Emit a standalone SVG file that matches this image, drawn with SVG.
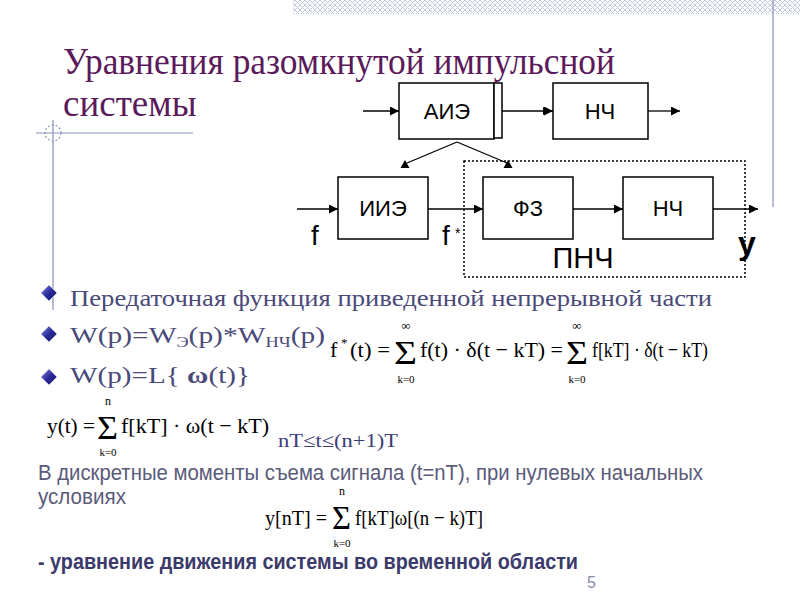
<svg xmlns="http://www.w3.org/2000/svg" width="800" height="600" viewBox="0 0 800 600">
<defs>
<pattern id="hatch" width="5" height="5" patternUnits="userSpaceOnUse">
<path d="M0,0 L5,5 M5,0 L0,5" stroke="#c3c9de" stroke-width="1"/>
</pattern>
<marker id="arr" viewBox="0 0 10 10" refX="10" refY="5" markerWidth="9" markerHeight="9" markerUnits="userSpaceOnUse" orient="auto">
<path d="M0,0 L10,5 L0,10 Z" fill="#000"/>
</marker>
<linearGradient id="dg" x1="0" y1="0" x2="1" y2="1">
<stop offset="0" stop-color="#8a8ae0"/>
<stop offset="0.5" stop-color="#2a2a9c"/>
<stop offset="1" stop-color="#1a1a60"/>
</linearGradient>
<style>
.blk{fill:#fff;stroke:#000;stroke-width:1.5}
.ln{stroke:#000;stroke-width:1.3;fill:none}
.bt{font-family:"Liberation Sans",Arial,sans-serif;font-size:22px;fill:#000;text-anchor:middle}
.sig{font-family:"Liberation Sans",Arial,sans-serif;fill:#000}
.ttl{font-family:"Liberation Serif","Times New Roman",serif;font-size:37px;fill:#5b1a5b}
.bul{font-family:"Liberation Serif","Times New Roman",serif;font-size:24px;fill:#4a4a7a}
.m{font-family:"Liberation Serif","Times New Roman",serif;fill:#000}
.ms{font-family:"Liberation Serif","Times New Roman",serif;fill:#000;text-anchor:middle}
.body{font-family:"Liberation Sans",Arial,sans-serif;fill:#5a5a7a}
.deco{stroke:#8a92b8;stroke-width:1.2;fill:none}
</style>
</defs>
<rect width="800" height="600" fill="#fff"/>
<!-- decorations -->
<rect x="293" y="0" width="507" height="14" fill="url(#hatch)"/>
<line class="deco" x1="773" y1="0" x2="773" y2="207"/>
<line class="deco" x1="36" y1="133" x2="193" y2="133"/>
<line class="deco" x1="53" y1="120" x2="53" y2="310"/>
<circle class="deco" cx="53" cy="133" r="8" stroke-dasharray="2 2"/>
<!-- title -->
<text class="ttl" x="63" y="74" textLength="552" lengthAdjust="spacingAndGlyphs">Уравнения разомкнутой импульсной</text>
<text class="ttl" x="63" y="116">системы</text>
<!-- nodes -->
<g id="aie"><rect class="blk" x="399" y="83" width="95" height="56"/><rect class="blk" x="494" y="83" width="8" height="55"/><text class="bt" x="447" y="119">АИЭ</text></g>
<g id="nch1"><rect class="blk" x="553" y="83" width="95" height="56"/><text class="bt" x="600" y="119">НЧ</text></g>
<g id="iie"><rect class="blk" x="338" y="177" width="90" height="62"/><text class="bt" x="383" y="216">ИИЭ</text></g>
<g id="fz"><rect class="blk" x="483" y="177" width="90" height="62"/><text class="bt" x="528" y="216">ФЗ</text></g>
<g id="nch2"><rect class="blk" x="623" y="177" width="90" height="62"/><text class="bt" x="668" y="216">НЧ</text></g>
<g id="pnch"><rect x="464" y="161" width="281" height="116" fill="none" stroke="#000" stroke-width="1.5" stroke-dasharray="2 2"/><text class="sig" x="583" y="268" style="font-size:29px" text-anchor="middle">ПНЧ</text></g>
<!-- connectors -->
<g id="connectors">
<line class="ln" x1="363" y1="111" x2="399" y2="111" marker-end="url(#arr)"/>
<line class="ln" x1="502" y1="111" x2="553" y2="111" marker-end="url(#arr)"/>
<path d="M543,107 L550,111 L543,115 Z" fill="#000"/>
<line class="ln" x1="648" y1="111" x2="680" y2="111" marker-end="url(#arr)"/>
<line class="ln" x1="457" y1="142" x2="407" y2="163"/>
<line class="ln" x1="457" y1="142" x2="507" y2="163"/>
<path d="M405,160 L400.5,168 L409.5,168 Z" fill="#000"/>
<path d="M508,160 L503.5,168 L512.5,168 Z" fill="#000"/>
<line class="ln" x1="297" y1="209" x2="338" y2="209" marker-end="url(#arr)"/>
<line class="ln" x1="428" y1="209" x2="483" y2="209" marker-end="url(#arr)"/>
<line class="ln" x1="573" y1="209" x2="623" y2="209" marker-end="url(#arr)"/>
<line class="ln" x1="713" y1="209" x2="758" y2="209" marker-end="url(#arr)"/>
</g>
<!-- signal labels -->
<text class="sig" x="315" y="245" style="font-size:28px" text-anchor="middle">f</text>
<text class="sig" x="446" y="245" style="font-size:28px" text-anchor="middle">f</text>
<text class="sig" x="455" y="238" style="font-size:14px">*</text>
<text class="sig" x="747" y="254" style="font-size:32px;font-weight:bold" text-anchor="middle">y</text>
<!-- bullets -->
<g fill="url(#dg)" stroke="#c0c0e8" stroke-width="1">
<path d="M49,285 L57,293 L49,301 L41,293 Z"/>
<path d="M49,326 L57,334 L49,342 L41,334 Z"/>
<path d="M49,369 L57,377 L49,385 L41,377 Z"/>
</g>
<text class="bul" x="70" y="306" textLength="642" lengthAdjust="spacingAndGlyphs">Передаточная функция приведенной непрерывной части</text>
<text class="bul" x="70" y="343" textLength="255" lengthAdjust="spacingAndGlyphs">W(p)=W<tspan style="font-size:15px" dy="4">Э</tspan><tspan dy="-4">(p)*W</tspan><tspan style="font-size:15px" dy="4">НЧ</tspan><tspan dy="-4">(p)</tspan></text>
<text class="bul" x="70" y="383" textLength="180" lengthAdjust="spacingAndGlyphs">W(p)=L{ <tspan style="font-weight:bold">ω</tspan>(t)}</text>
<!-- f* formula -->
<text class="m" x="330" y="357" style="font-size:22px">f</text>
<text class="m" x="341" y="347" style="font-size:13px">*</text>
<text class="m" x="350" y="357" style="font-size:22px" textLength="40" lengthAdjust="spacingAndGlyphs">(t) =</text>
<text class="m" x="394" y="364" style="font-size:34px" textLength="23" lengthAdjust="spacingAndGlyphs">Σ</text>
<text class="ms" x="406" y="330" style="font-size:13px">∞</text>
<text class="ms" x="406" y="383" style="font-size:11px">k=0</text>
<text class="m" x="420" y="357" style="font-size:22px" textLength="143" lengthAdjust="spacingAndGlyphs">f(t) · δ(t − kT) =</text>
<text class="m" x="566" y="364" style="font-size:34px" textLength="22" lengthAdjust="spacingAndGlyphs">Σ</text>
<text class="ms" x="577" y="330" style="font-size:13px">∞</text>
<text class="ms" x="577" y="383" style="font-size:11px">k=0</text>
<text class="m" x="592" y="357" style="font-size:22px" textLength="116" lengthAdjust="spacingAndGlyphs">f[kT] · δ(t − kT)</text>
<!-- y(t) formula -->
<text class="m" x="47" y="433" style="font-size:22px" textLength="48" lengthAdjust="spacingAndGlyphs">y(t) =</text>
<text class="m" x="97" y="439" style="font-size:34px" textLength="21" lengthAdjust="spacingAndGlyphs">Σ</text>
<text class="ms" x="108" y="405" style="font-size:12px">n</text>
<text class="ms" x="108" y="456" style="font-size:11px">k=0</text>
<text class="m" x="121" y="433" style="font-size:22px" textLength="148" lengthAdjust="spacingAndGlyphs">f[kT] · ω(t − kT)</text>
<text x="278" y="447" font-family="Liberation Serif, Times New Roman, serif" font-size="19" fill="#3c3c78" textLength="120" lengthAdjust="spacingAndGlyphs">nT≤t≤(n+1)T</text>
<!-- text -->
<text class="body" x="38" y="480" style="font-size:22px" textLength="665" lengthAdjust="spacingAndGlyphs">В дискретные моменты съема сигнала (t=nT), при нулевых начальных</text>
<text class="body" x="38" y="504" style="font-size:22px" textLength="88" lengthAdjust="spacingAndGlyphs">условиях</text>
<!-- y[nT] formula -->
<text class="m" x="265" y="525" style="font-size:22px" textLength="62" lengthAdjust="spacingAndGlyphs">y[nT] =</text>
<text class="m" x="332" y="529" style="font-size:33px" textLength="19" lengthAdjust="spacingAndGlyphs">Σ</text>
<text class="ms" x="342" y="495" style="font-size:12px">n</text>
<text class="ms" x="342" y="547" style="font-size:11px">k=0</text>
<text class="m" x="355" y="525" style="font-size:22px" textLength="128" lengthAdjust="spacingAndGlyphs">f[kT]ω[(n − k)T]</text>
<text x="38" y="569" font-family="Liberation Sans, Arial, sans-serif" font-size="22" font-weight="bold" fill="#3b3b6b" textLength="540" lengthAdjust="spacingAndGlyphs">- уравнение движения системы во временной области</text>
<text x="587" y="588" font-family="Liberation Sans, Arial, sans-serif" font-size="16" fill="#8a8aa8">5</text>
</svg>
